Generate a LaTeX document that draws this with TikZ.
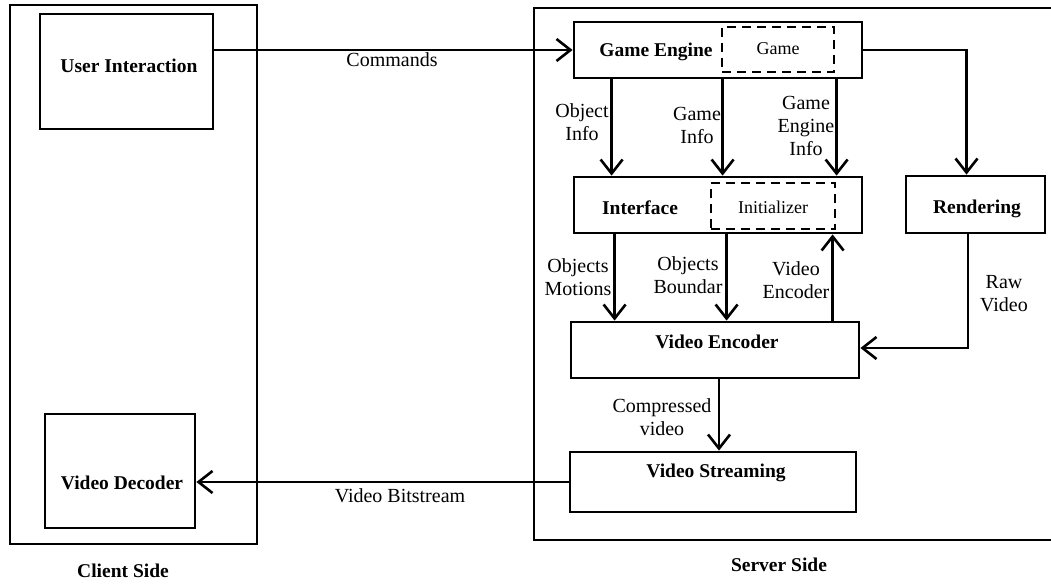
\documentclass[tikz,border=0pt]{standalone}
\usepackage{fontspec}
\setmainfont{Liberation Serif}
\usetikzlibrary{arrows.meta}
\tikzset{
  lw/.style={line width=2.8pt},
  box/.style={draw, lw, inner sep=0pt, rectangle},
  dbox/.style={draw, line width=2.6pt, dash pattern=on 9pt off 6pt, inner sep=0pt, rectangle},
  arr/.style={lw, -{Straight Barb[length=14pt,width=22pt,line width=2.6pt]}},
  btxt/.style={font=\fontsize{19.5}{22}\selectfont\bfseries, inner sep=0pt, align=center},
  rtxt/.style={font=\fontsize{20}{23}\selectfont, inner sep=0pt, align=center},
  stxt/.style={font=\fontsize{18}{21}\selectfont, inner sep=0pt, align=center},
}
\begin{document}
\begin{tikzpicture}[x=1pt,y=-1pt]
\useasboundingbox (0,0) rectangle (1051,583);
% outer frames
\node[box, minimum width=247pt, minimum height=539pt] (client) at (133.5,274.5) {};
\draw[lw] (1065,8) -- (534,8) -- (534,540) -- (1065,540);
% client boxes
\node[box, minimum width=173pt, minimum height=115pt] (ui) at (126.5,71.5) {};
\node[btxt] (uit) at (129,66) {User Interaction};
\node[box, minimum width=150pt, minimum height=114pt] (vd) at (120,471) {};
\node[btxt] (vdt) at (122,483) {Video Decoder};
% server boxes
\node[box, minimum width=288pt, minimum height=56pt] (ge) at (718,50) {};
\node[btxt] (get) at (656,52) {Game Engine};
\node[dbox, minimum width=112pt, minimum height=45pt] (game) at (778,49.5) {};
\node[stxt] (gamet) at (778,49) {Game};
\node[box, minimum width=288pt, minimum height=56pt] (if) at (718,205) {};
\node[btxt] (ift) at (640,208) {Interface};
\node[dbox, minimum width=124pt, minimum height=46pt] (init) at (773,206) {};
\node[stxt] (initt) at (773,207) {Initializer};
\node[box, minimum width=139pt, minimum height=57pt] (rend) at (975.5,204.5) {};
\node[btxt] (rendt) at (977,209) {Rendering};
\node[box, minimum width=288pt, minimum height=56pt] (ve) at (715,350) {};
\node[btxt] (vet) at (717,342) {Video Encoder};
\node[box, minimum width=286pt, minimum height=60pt] (vs) at (713,482) {};
\node[btxt] (vst) at (716,473) {Video Streaming};
% side labels
\node[btxt] (cs) at (123,571) {Client Side};
\node[btxt] (ss) at (779,565) {Server Side};
% connectors
\draw[arr] (ui.east |- ge.west) -- (ge.west);
\node[rtxt] (cmd) at (392,60) {Commands};
\draw[arr] (vs.west) -- (vd.east |- vs.west);
\node[rtxt] (vbs) at (400,496) {Video Bitstream};
\coordinate (g1) at ([xshift=39pt]ge.south west);
\coordinate (g2) at ([xshift=150pt]ge.south west);
\coordinate (g3) at ([xshift=264pt]ge.south west);
\draw[arr] (g1) -- (g1 |- if.north);
\draw[arr] (g2) -- (g2 |- if.north);
\draw[arr] (g3) -- (g3 |- if.north);
\node[rtxt] (l1) at (582,122) {Object\\Info};
\node[rtxt] (l2) at (697,125) {Game\\Info};
\node[rtxt] (l3) at (806,126) {Game\\Engine\\Info};
\coordinate (r0) at ([xshift=-9pt]rend.north);
\draw[arr] (ge.east) -- (r0 |- ge.east) -- (r0);
\coordinate (i1) at ([xshift=42pt]if.south west);
\coordinate (i2) at ([xshift=154pt]if.south west);
\coordinate (v3) at ([xshift=263pt]ve.north west);
\draw[arr] (i1) -- (i1 |- ve.north);
\draw[arr] (i2) -- (i2 |- ve.north);
\draw[arr] (v3) -- (v3 |- if.south);
\node[rtxt] (l4) at (578,277) {Objects\\Motions};
\node[rtxt] (l5) at (688,275) {Objects\\Boundar};
\node[rtxt] (l6) at (796,280) {Video\\Encoder};
\coordinate (r1) at ([xshift=-7.5pt,yshift=0pt]rend.south);
\coordinate (ve1) at ([yshift=2pt]ve.east);
\draw[arr] (r1) |- (ve1);
\node[rtxt] (l7) at (1004,294) {Raw\\Video};
\coordinate (c1) at ([xshift=4pt]ve.south);
\draw[arr] (c1) -- (c1 |- vs.north);
\node[rtxt] (l8) at (662,417) {Compressed\\video};
\end{tikzpicture}
\end{document}
